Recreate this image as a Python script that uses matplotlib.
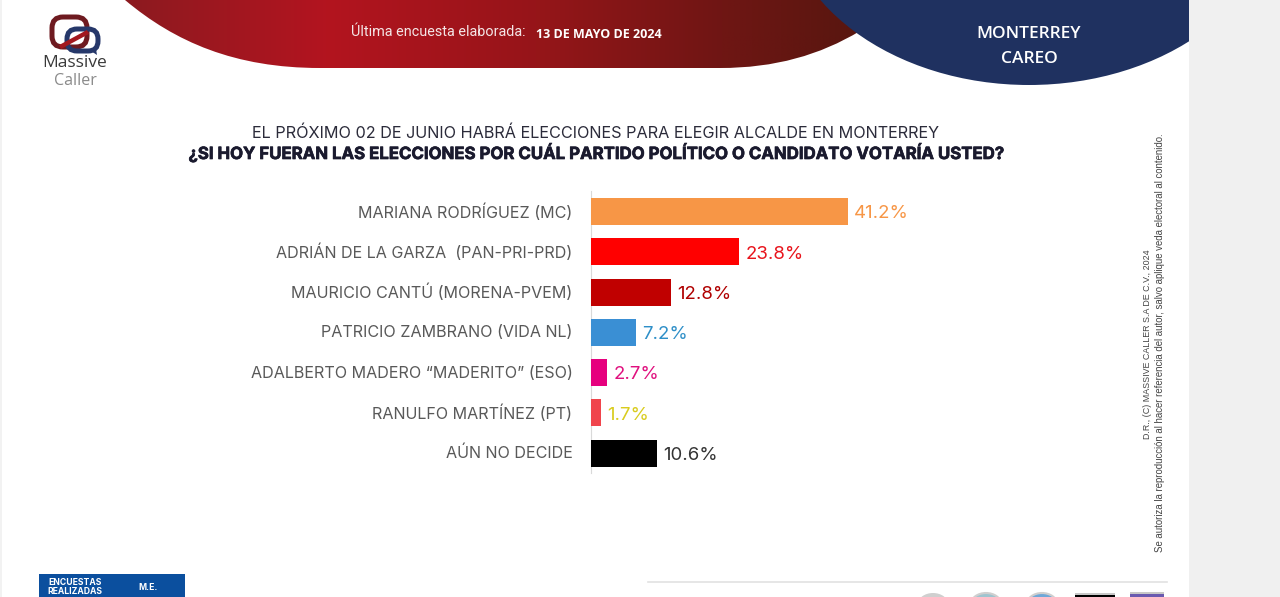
import numpy as np
import matplotlib
matplotlib.use("Agg")
import matplotlib.pyplot as plt
import matplotlib.patheffects as pe
from matplotlib.patches import Ellipse, FancyBboxPatch, PathPatch, Polygon, Rectangle
from matplotlib.path import Path
from matplotlib.colors import LinearSegmentedColormap
from matplotlib.transforms import ScaledTranslation

candidates = [
    "MARIANA RODRÍGUEZ (MC)",
    "ADRIÁN DE LA GARZA  (PAN-PRI-PRD)",
    "MAURICIO CANTÚ (MORENA-PVEM)",
    "PATRICIO ZAMBRANO (VIDA NL)",
    "ADALBERTO MADERO “MADERITO” (ESO)",
    "RANULFO MARTÍNEZ (PT)",
    "AÚN NO DECIDE",
]
values = [41.2, 23.8, 12.8, 7.2, 2.7, 1.7, 10.6]
bar_colors = ["#f79646", "#ff0000", "#c00000", "#3a8fd4", "#e6007e", "#f0444c", "#000000"]
label_colors = ["#f79646", "#e8141c", "#b00000", "#2e8fc8", "#e0107e", "#d9cc1e", "#333333"]

W, H = 1280, 597
FONT = "Inter"

fig = plt.figure(figsize=(12.8, 5.97), dpi=100, facecolor="white")

# whole figure in pixel coordinates for the slide decoration
bg = fig.add_axes([0, 0, 1, 1])
bg.set_xlim(0, W)
bg.set_ylim(H, 0)
bg.axis("off")

bg.add_patch(Rectangle((1189, 0), 91, H, fc="#f0f0f0", ec="none"))
bg.add_patch(Rectangle((0, 0), 2, H, fc="#f2f2f2", ec="none"))

# red banner with gradient
verts = [(125, 0), (175, 42), (235, 68), (320, 68), (720, 68), (775, 68), (820, 55), (860, 31), (860, 0), (125, 0)]
codes = [Path.MOVETO, Path.CURVE4, Path.CURVE4, Path.CURVE4, Path.LINETO, Path.CURVE4, Path.CURVE4, Path.CURVE4,
         Path.LINETO, Path.CLOSEPOLY]
banner = PathPatch(Path(verts, codes), fc="none", ec="none")
bg.add_patch(banner)
cmap = LinearSegmentedColormap.from_list(
    "banner", [(0, "#8c1a20"), (0.27, "#b3141f"), (0.55, "#961519"), (0.8, "#6f1614"), (1, "#56160f")])
grad = bg.imshow(np.linspace(0, 1, 256)[None, :], cmap=cmap, extent=(125, 872, 70, 0), aspect="auto", zorder=1)
grad.set_clip_path(banner)
bg.set_xlim(0, W)
bg.set_ylim(H, 0)

# navy banner, cut at the gray side panel
navy = Ellipse((1029, -100), 496, 370, fc="#1f3160", ec="none", zorder=2)
bg.add_patch(navy)
navy.set_clip_path(Rectangle((0, 0), 1189, H, transform=bg.transData))

bg.text(438, 32, "Última encuesta elaborada:", color="#f4e6e6", fontsize=10.4, family="Roboto",
        ha="center", va="center", zorder=3)
bg.text(599, 34, "13 DE MAYO DE 2024", color="white", fontsize=9, family="Open Sans", weight="bold",
        ha="center", va="center", zorder=3)
bg.text(1029, 34, "MONTERREY", color="white", fontsize=12.5, family="Open Sans", weight="semibold",
        ha="center", va="center", zorder=3)
bg.text(1029, 59, "CAREO", color="white", fontsize=12.5, family="Open Sans", weight="semibold",
        ha="center", va="center", zorder=3)

# logo
bg.add_patch(FancyBboxPatch((52, 17), 35, 30, boxstyle="round,pad=0,rounding_size=11", fc="none", ec="#6e1a20", lw=3.6))
bg.add_patch(FancyBboxPatch((67, 29), 31, 22, boxstyle="round,pad=0,rounding_size=10", fc="none", ec="#26386a", lw=3.6))
bg.plot([62, 86], [46, 33], color="#a3181f", lw=3.2)
bg.add_patch(Polygon([(88, 49), (96, 49), (97, 55)], fc="#26386a", ec="none"))
bg.text(75, 63, "Massive", color="#3a3a3a", fontsize=12.5, family="Open Sans", weight="medium", ha="center", va="center")
bg.text(75, 81, "Caller", color="#8a8a8a", fontsize=11.5, family="Open Sans", ha="center", va="center")

# question
bg.text(596, 133, "EL PRÓXIMO 02 DE JUNIO HABRÁ ELECCIONES PARA ELEGIR ALCALDE EN MONTERREY", color="#2b2b3a",
        fontsize=11.7, family=FONT, ha="center", va="center")
bg.text(596, 153, "¿SI HOY FUERAN LAS ELECCIONES POR CUÁL PARTIDO POLÍTICO O CANDIDATO VOTARÍA USTED?", color="#1a1a2e",
        fontsize=12.1, family=FONT, weight="bold", ha="center", va="center",
        path_effects=[pe.withStroke(linewidth=0.5, foreground="#1a1a2e")])

# legal side note
bg.text(1147, 344, "D.R., (C) MASSIVE CALLER S.A DE C.V., 2024", color="#444444", fontsize=6.4, family="Liberation Sans",
        rotation=90, ha="center", va="center")
bg.text(1160, 343, "Se autoriza la reproducción al hacer referencia del autor, salvo aplique veda electoral al contenido.",
        color="#444444", fontsize=6.9, family="Liberation Sans", rotation=90, ha="center", va="center")

# footer, cut off by the bottom edge
bg.add_patch(Rectangle((39, 574), 146, 30, fc="#0b4f9e", ec="none"))
bg.text(75, 587, "ENCUESTAS\nREALIZADAS", color="white", fontsize=6.2, family=FONT, weight="bold",
        ha="center", va="center", linespacing=1.1)
bg.text(148, 587, "M.E.", color="white", fontsize=6.2, family=FONT, weight="bold", ha="center", va="center")
bg.plot([648, 1167], [582, 582], color="#e2e2e2", lw=1.2)
bg.add_patch(Ellipse((933, 604), 30, 22, fc="#cfcfcf", ec="none"))
bg.add_patch(Ellipse((986, 604), 30, 22, fc="#9fc4cf", ec="#cfcfcf", lw=1.5))
bg.add_patch(Ellipse((1042, 604), 30, 22, fc="#6fa8d8", ec="#cfcfcf", lw=1.5))
bg.add_patch(Rectangle((1075, 595), 40, 4, fc="black", ec="none"))
bg.add_patch(Rectangle((1075, 592.5), 40, 2.5, fc="#c8c8c8", ec="none"))
bg.add_patch(Rectangle((1130, 594), 34, 5, fc="#6a5ab0", ec="none"))
bg.add_patch(Rectangle((1130, 592), 34, 2, fc="#c8c8c8", ec="none"))

# bar chart: 0 sits at x=590.5 px, 6.25 px per point, rows 40.3 px apart
ax_left, ax_right, ax_top, ax_bottom = 590.5, 1090.5, 191.3, 473.4
ax = fig.add_axes([ax_left / W, 1 - ax_bottom / H, (ax_right - ax_left) / W, (ax_bottom - ax_top) / H])
ax.patch.set_alpha(0)
y = np.arange(len(values))
ax.barh(y, values, height=0.67, color=bar_colors)
ax.set_xlim(0, 80)
ax.set_ylim(len(values) - 0.5, -0.5)
ax.set_yticks(y, candidates, fontsize=11.6, color="#595959", family=FONT, va="center_baseline")
ax.tick_params(axis="y", length=0, pad=13)
up = ScaledTranslation(0, 1 / 100, fig.dpi_scale_trans)
for label in ax.get_yticklabels():
    label.set_transform(label.get_transform() + up)
ax.set_xticks([])
for s in ["top", "right", "bottom"]:
    ax.spines[s].set_visible(False)
ax.spines["left"].set_color("#d9d9d9")
ax.spines["left"].set_linewidth(0.8)
ax.spines["left"].set_zorder(0.5)
for i, v in enumerate(values):
    ax.annotate(f"{v}%", (v, i), xytext=(4.5, -0.2), textcoords="offset points", va="center_baseline", ha="left",
                fontsize=13.4, color=label_colors[i], family=FONT)

fig.savefig("out.png", dpi=100)
